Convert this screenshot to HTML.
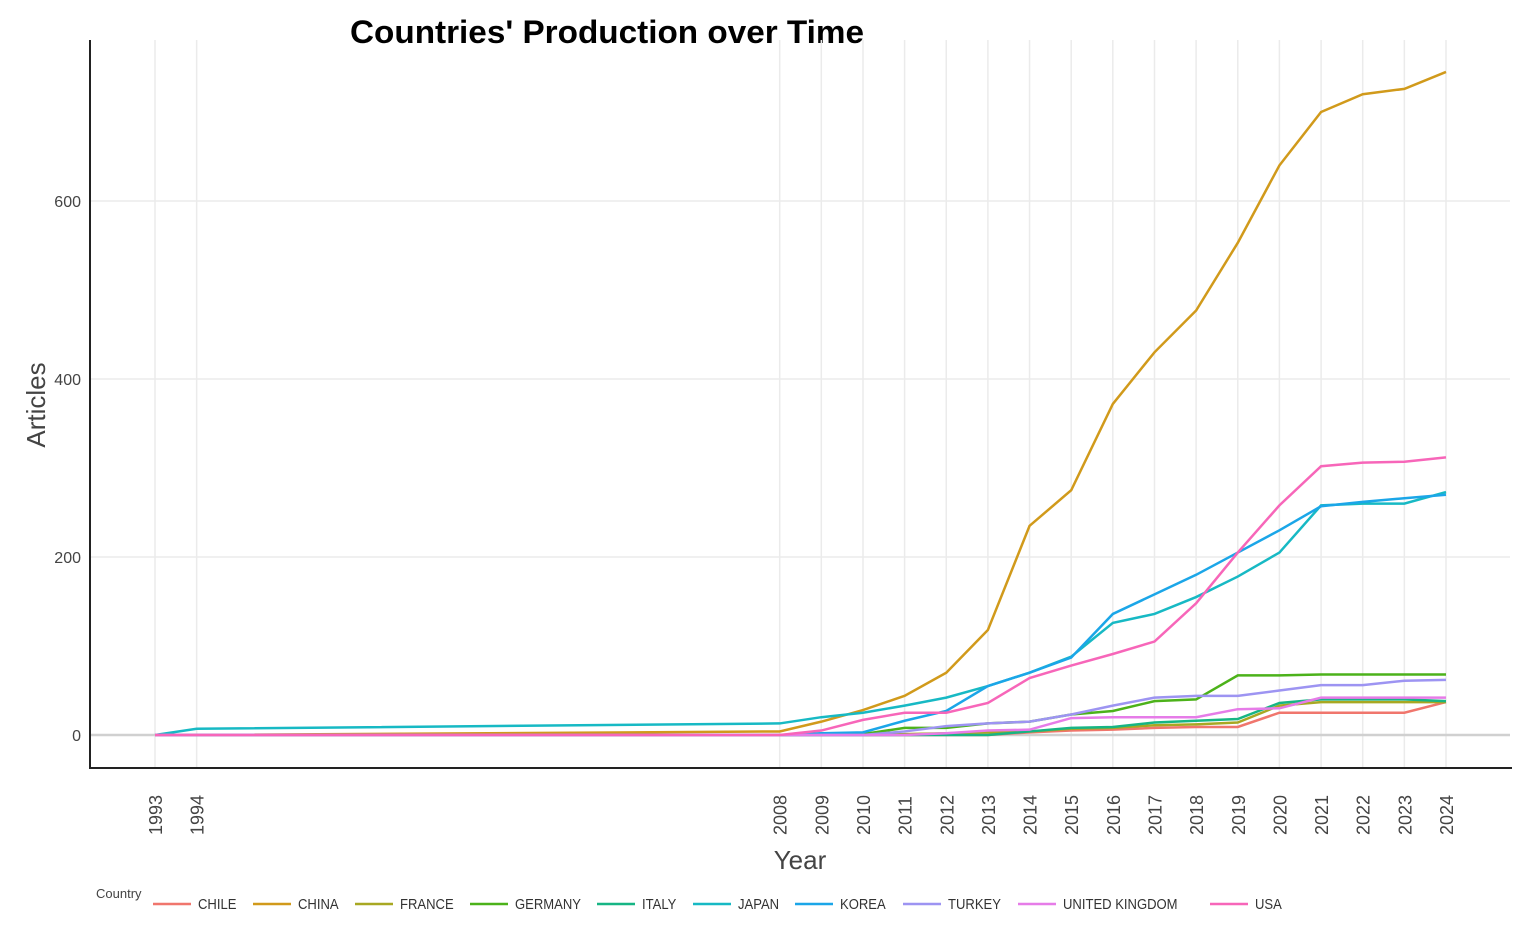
<!DOCTYPE html>
<html><head><meta charset="utf-8"><style>
body{margin:0;background:#fff;font-family:"Liberation Sans",sans-serif}
svg text{font-family:"Liberation Sans",sans-serif}
</style></head><body>
<svg id="c" width="1535" height="922">
<text x="607" y="43" text-anchor="middle" font-size="32" font-weight="bold" textLength="514" lengthAdjust="spacingAndGlyphs">Countries' Production over Time</text>
<g id="grid"></g><g id="lines"></g><g id="axes"></g>
<text x="45" y="405" transform="rotate(-90 45 405)" text-anchor="middle" font-size="26" fill="#444">Articles</text>
<text x="800" y="869" text-anchor="middle" font-size="26" fill="#444">Year</text>
<text x="96" y="898" font-size="13" fill="#444">Country</text>
<g id="legend"></g>
</svg>
<script>
const years=[1993,1994,2008,2009,2010,2011,2012,2013,2014,2015,2016,2017,2018,2019,2020,2021,2022,2023,2024];
const countries=["CHILE","CHINA","FRANCE","GERMANY","ITALY","JAPAN","KOREA","TURKEY","UNITED KINGDOM","USA"];
const colors=["#f0766d","#d19a1b","#a8a822","#4cb21a","#17b584","#17b9c4","#1ba6e8","#9d94f2","#e67ce8","#f766b9"];
const chile=[0,0,0,0,0,0,0,0,3,5,6,8,9,9,25,25,25,25,37];
const china=[0,0,4,15,28,44,70,118,235,275,372,430,477,553,640,700,720,726,745];
const france=[0,0,0,0,0,1,2,3,4,7,8,11,12,14,33,37,37,37,37];
const germany=[0,0,0,0,1,8,8,13,15,23,27,38,40,67,67,68,68,68,68];
const italy=[0,0,0,0,0,0,0,0,4,8,9,14,16,18,36,40,40,40,38];
const japan=[0,7,13,20,25,33,42,55,70,88,126,136,155,178,205,258,260,260,273];
const korea=[0,0,0,2,3,16,27,55,70,87,136,158,180,205,230,257,262,266,270];
const turkey=[0,0,0,0,0,4,10,13,15,23,33,42,44,44,50,56,56,61,62];
const uk=[0,0,0,0,0,0,2,5,6,19,20,20,20,29,30,42,42,42,42];
const usa=[0,0,0,5,17,25,25,36,64,78,91,105,148,205,258,302,306,307,312];
const series=[chile,china,france,germany,italy,japan,korea,turkey,uk,usa];
const yTicks=[0,200,400,600];
const NS="http://www.w3.org/2000/svg";
const X=y=>155+(y-1993)*(1446-155)/31;
const Y=v=>735-v*0.89;
function mk(t,a,p){const e=document.createElementNS(NS,t);for(const k in a)e.setAttribute(k,a[k]);p.appendChild(e);return e;}
const grid=document.getElementById('grid'),lines=document.getElementById('lines'),axes=document.getElementById('axes'),legend=document.getElementById('legend');
years.forEach(yr=>{const l=mk('line',{x1:X(yr),x2:X(yr),y1:40,y2:768,stroke:'#ebebeb','stroke-width':1.5},grid);


const t=mk('text',{x:0,y:0,transform:`translate(${X(yr)+7},835) rotate(-90)`,'font-size':18,fill:'#444'},axes);t.textContent=yr;

});
yTicks.forEach(v=>{const l=mk('line',{x1:90,x2:1510,y1:Y(v),y2:Y(v),stroke:v===0?'#d0d0d0':'#ebebeb','stroke-width':v===0?2.5:1.5},grid);


const t=mk('text',{x:81,y:Y(v)+6,'text-anchor':'end','font-size':16,fill:'#444'},axes);t.textContent=v;

});
let a=mk('line',{x1:90,x2:90,y1:40,y2:769,stroke:'#222','stroke-width':2},axes);


a=mk('line',{x1:89,x2:1512,y1:768,y2:768,stroke:'#222','stroke-width':2},axes);


series.forEach((s,i)=>{const p=mk('polyline',{points:s.map((v,j)=>X(years[j])+','+Y(v)).join(' '),fill:'none',stroke:colors[i],'stroke-width':2.5},lines);

});
const lx=[153,253,355,470,597,693,795,903,1018,1210];
countries.forEach((c,i)=>{const g=mk('g',{},legend);


mk('line',{x1:lx[i],x2:lx[i]+38,y1:904,y2:904,stroke:colors[i],'stroke-width':2.5},g);
const t=mk('text',{x:lx[i]+45,y:909,'font-size':15,fill:'#333'},g);t.textContent=c;
const w=t.getComputedTextLength();t.setAttribute('textLength',w*0.87);t.setAttribute('lengthAdjust','spacingAndGlyphs');});
</script>
</body></html>
